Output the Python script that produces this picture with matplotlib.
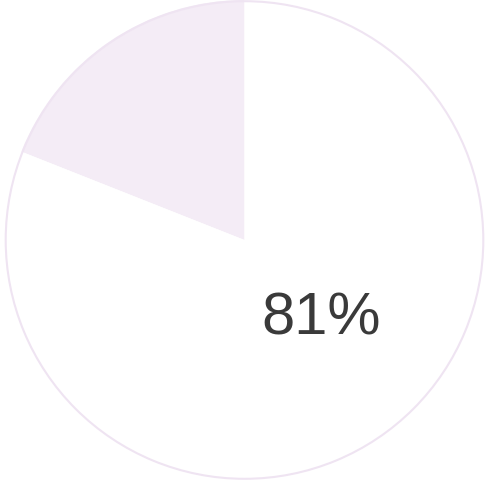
import matplotlib
matplotlib.use("Agg")
import matplotlib.pyplot as plt

labels = ["Other", "Share"]
values = [19, 81]
colors = ["#f4ecf6", "#ffffff"]
label_text = "81%"

fig = plt.figure(figsize=(4.89, 4.80), dpi=100)
ax = fig.add_axes([0, 0, 1, 1])
ax.pie(values, colors=colors, startangle=90, counterclock=True, radius=1.0,
       wedgeprops=dict(linewidth=0))
# outline of the pie
ax.pie([1], colors=["none"], radius=0.995,
       wedgeprops=dict(fill=False, edgecolor="#efe4f2", linewidth=1.5))
ax.text(0.32, -0.33, label_text, ha="center", va="center", fontsize=43,
        color="#3a3a3a", family=["Liberation Sans", "DejaVu Sans"])
ax.set_aspect("equal")
ax.set_xlim(-489 / 480, 489 / 480)
ax.set_ylim(-1.0, 1.0)
ax.axis("off")
fig.savefig("out.png", dpi=100, facecolor="white")
